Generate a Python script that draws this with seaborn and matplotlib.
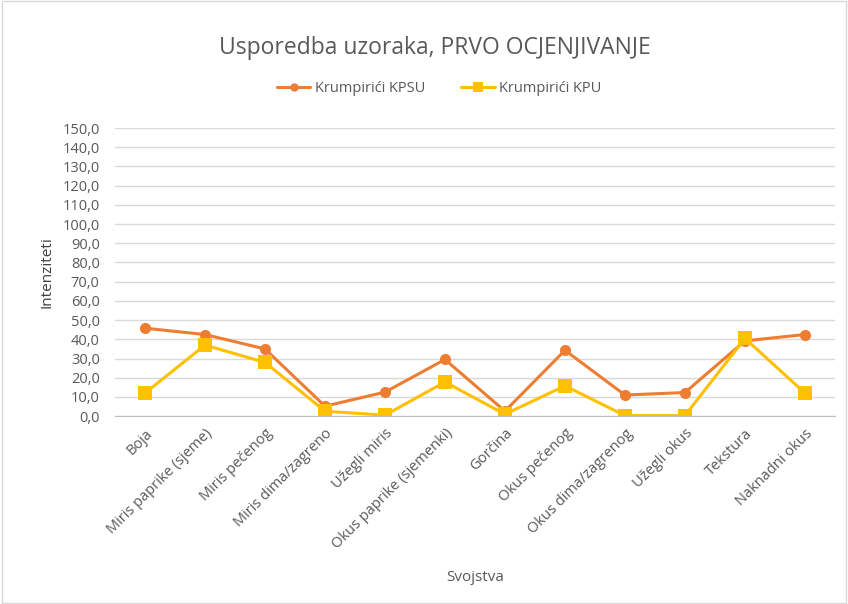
import numpy as np
import pandas as pd
import matplotlib
matplotlib.use("Agg")
import matplotlib.pyplot as plt
import seaborn as sns
from matplotlib.ticker import FuncFormatter, FixedLocator

categories = [
    "Boja", "Miris paprike (sjeme)", "Miris pečenog", "Miris dima/zagreno",
    "Užegli miris", "Okus paprike (sjemenki)", "Gorčina", "Okus pečenog",
    "Okus dima/zagrenog", "Užegli okus", "Tekstura", "Naknadni okus",
]
kpsu = [45.8, 42.5, 35.0, 5.2, 12.5, 29.5, 2.6, 34.3, 11.0, 12.3, 39.2, 42.5]
kpu = [12.0, 37.0, 28.0, 2.6, 0.5, 17.8, 1.0, 15.8, 0.3, 0.3, 40.5, 12.0]
series_names = ["Krumpirići KPSU", "Krumpirići KPU"]

sns.set_style("white")
plt.rcParams["font.family"] = ["Open Sans", "DejaVu Sans"]

df = pd.DataFrame({
    "pos": list(range(len(categories))) * 2,
    "val": kpsu + kpu,
    "serija": [series_names[0]] * len(categories) + [series_names[1]] * len(categories),
})

grey = "#595959"
fig = plt.figure(figsize=(8.48, 6.04), dpi=100)
ax = fig.add_axes([0.1356, 0.311, 0.849, 0.477])

sns.lineplot(
    data=df, x="pos", y="val", hue="serija", style="serija",
    palette={series_names[0]: "#ED7D31", series_names[1]: "#FFC000"},
    markers={series_names[0]: "o", series_names[1]: "s"},
    dashes=False, linewidth=2.2, markersize=8, markeredgewidth=0,
    sort=False, ax=ax,
)
# squares a bit bigger than the circles
for line in ax.get_lines():
    if line.get_marker() == "s":
        line.set_markersize(10)

ax.set_xlim(-0.5, len(categories) - 0.5)
ax.set_ylim(0, 150)
ax.set_yticks(np.arange(0, 151, 10))
ax.yaxis.set_major_formatter(FuncFormatter(lambda v, p: f"{v:.1f}".replace(".", ",")))
ax.grid(axis="y", color="#d9d9d9", linewidth=1)
ax.set_axisbelow(True)

ax.set_xticks(range(len(categories)))
ax.set_xticklabels(categories, rotation=45, ha="right", rotation_mode="anchor",
                   fontsize=10.5, color=grey)
ax.xaxis.set_minor_locator(FixedLocator(np.arange(-0.5, len(categories), 1)))
ax.tick_params(axis="x", which="major", length=0, pad=7)
ax.tick_params(axis="x", which="minor", length=5, color="#bfbfbf", width=1)
ax.tick_params(axis="y", length=0, labelsize=10.5, labelcolor=grey, pad=11)

for s in ["top", "right", "left"]:
    ax.spines[s].set_visible(False)
ax.spines["bottom"].set_color("#bfbfbf")

ax.set_xlabel("Svojstva", fontsize=11, color=grey, labelpad=13)
ax.set_ylabel("Intenziteti", fontsize=11, color="#404040", labelpad=6)

fig.suptitle("Usporedba uzoraka, PRVO OCJENJIVANJE", fontsize=16.5, color=grey,
             x=0.513, y=0.94)

handles, labels = ax.get_legend_handles_labels()
for h in handles:
    h.set_markersize(7 if h.get_marker() == "s" else 6)
ax.legend(handles, labels, loc="center", bbox_to_anchor=(0.518, 0.854),
          bbox_transform=fig.transFigure, ncol=2, frameon=False, fontsize=10.5,
          labelcolor=grey, handlelength=2.3, handletextpad=0.3, columnspacing=2.5)

fig.patches.append(plt.Rectangle((0.002, 0.002), 0.996, 0.996, transform=fig.transFigure,
                                 fill=False, edgecolor="#d9d9d9", linewidth=1))

fig.savefig("out.png", dpi=100)
